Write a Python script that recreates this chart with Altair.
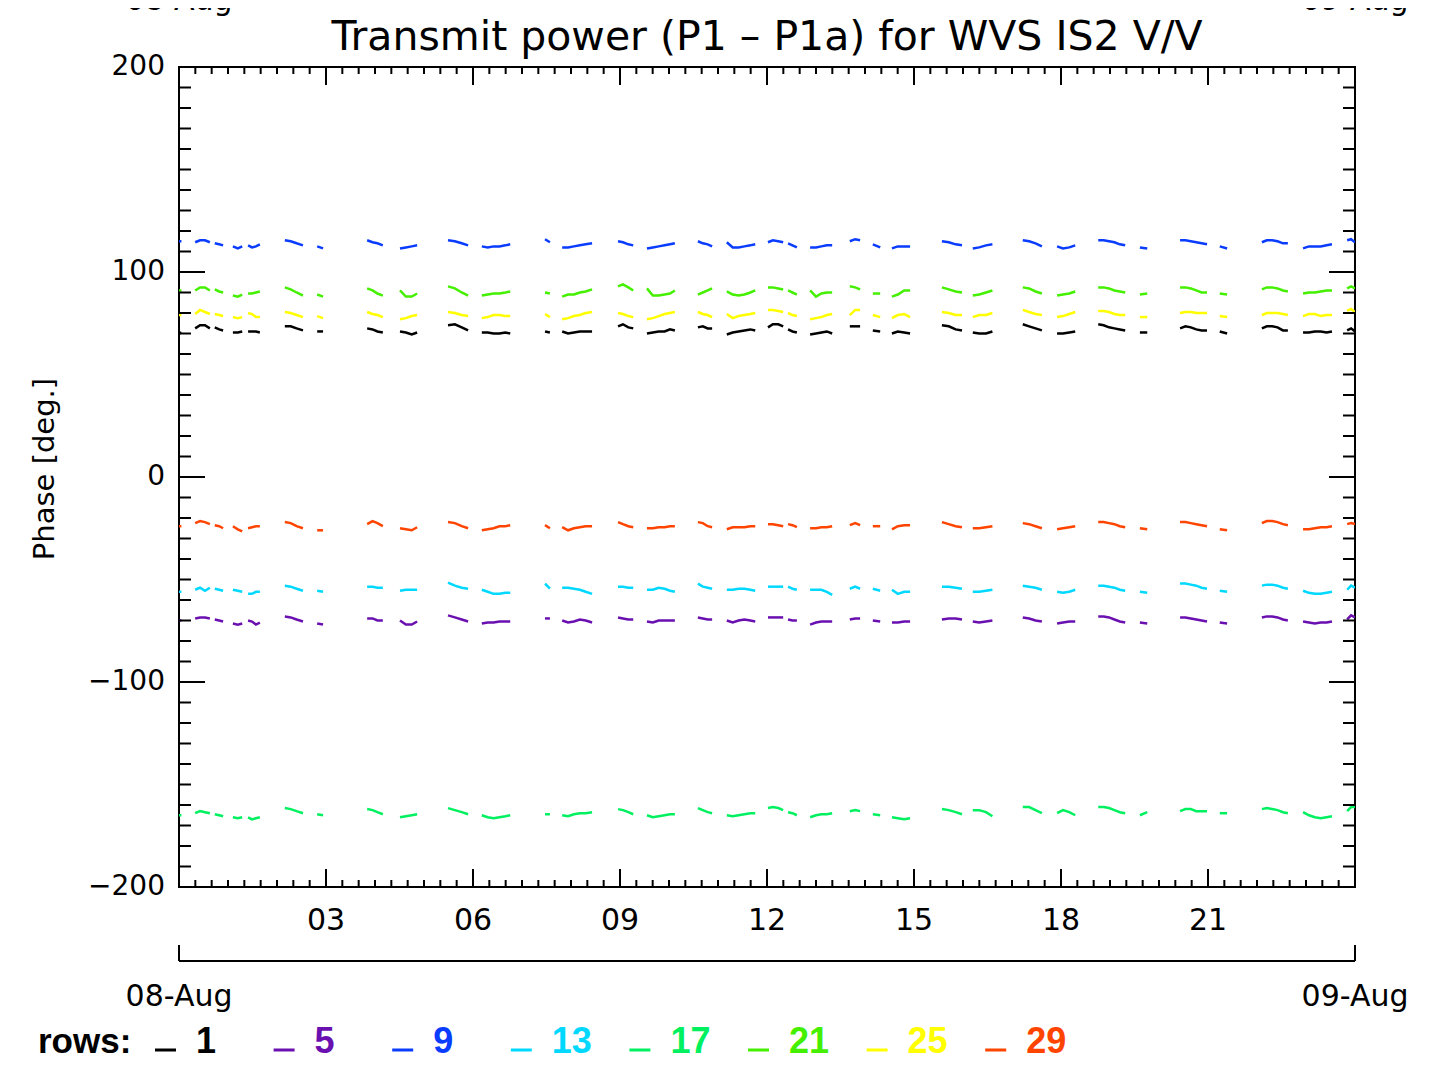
import altair as alt
import pandas as pd

# ---------------- data ----------------
rows = ["1", "5", "9", "13", "17", "21", "25", "29"]
row_colors = ["#000000", "#6a10b0", "#0a3cff", "#00d8ff", "#00f060", "#44f000", "#ffff00", "#ff4400"]

# time (hours of 08-Aug) of the samples, grouped into contiguous segments
seg_times = [
    [0.00, 0.05],
    [0.33, 0.43, 0.53, 0.63],
    [0.73, 0.82, 0.90],
    [1.10, 1.20, 1.29],
    [1.41, 1.49, 1.57, 1.65],
    [2.16, 2.28, 2.40, 2.53],
    [2.82, 2.94],
    [3.84, 3.95, 4.05, 4.16],
    [4.51, 4.63, 4.75, 4.86],
    [5.49, 5.63, 5.77, 5.90],
    [6.18, 6.30, 6.42, 6.54, 6.66, 6.76],
    [7.47, 7.57],
    [7.82, 7.94, 8.06, 8.18, 8.30, 8.43],
    [8.96, 9.06, 9.17, 9.27],
    [9.55, 9.67, 9.79, 9.91, 10.02, 10.12],
    [10.59, 10.69, 10.79, 10.88],
    [11.18, 11.30, 11.42, 11.54, 11.66, 11.76],
    [12.02, 12.12, 12.23, 12.33],
    [12.43, 12.52, 12.61],
    [12.88, 13.00, 13.11, 13.22, 13.33],
    [13.69, 13.80, 13.90],
    [14.16, 14.31],
    [14.55, 14.67, 14.80, 14.92],
    [15.57, 15.71, 15.85, 15.98],
    [16.20, 16.33, 16.47, 16.60],
    [17.22, 17.35, 17.48, 17.61],
    [17.92, 18.04, 18.17, 18.29],
    [18.76, 18.87, 18.98, 19.09, 19.20, 19.31],
    [19.61, 19.76],
    [20.43, 20.54, 20.65, 20.76, 20.87, 20.98],
    [21.24, 21.39],
    [22.10, 22.20, 22.31, 22.42, 22.53, 22.63],
    [22.94, 23.06, 23.18, 23.30, 23.42, 23.53],
    [23.84, 23.92, 24.00],
]

row_1 = [
    [70, 70.5], [72.5, 74, 74, 72.5], [73, 72, 71.5], [70.5, 70.5, 71], [71, 71, 71, 70.5],
    [73.5, 73.5, 72.5, 71.5], [71, 71], [72.5, 72, 71, 70.5], [71, 70.5, 69.5, 70.5],
    [74, 74.5, 73, 71.5], [70.5, 70.5, 70, 70, 70.5, 70], [71, 70.5], [71, 70, 70.5, 71, 71, 71],
    [73.5, 74.5, 73, 72.5], [70, 70.5, 71, 71, 72, 71.5], [73, 73.5, 72.5, 72.5],
    [69.5, 70.5, 71, 71.5, 72, 71.5], [73, 74.5, 74.5, 73.5], [72, 71, 70.5],
    [69.5, 70, 70.5, 71, 70], [73.5, 73.5, 73.5], [71.5, 71], [70, 71, 70.5, 70],
    [74, 73.5, 72, 71.5], [70.5, 70, 70, 71], [74.5, 73.5, 72.5, 71.5], [70, 70, 70.5, 71],
    [74.5, 74, 73, 72.5, 72, 71.5], [70.5, 70.5], [72.5, 73.5, 73, 72, 71.5, 71.5], [71, 70],
    [72.5, 73.5, 73.5, 73, 71.5, 71.5], [70.5, 70.5, 71, 71, 70.5, 71], [71.5, 72.5, 71],
]
row_5 = [
    [-70, -70], [-69, -68.5, -68.5, -69], [-69.5, -70, -70.5], [-71.5, -72, -71.5],
    [-70, -70.5, -72, -71], [-68, -68.5, -69.5, -70.5], [-71.5, -72], [-69, -69, -70, -70],
    [-70, -72, -72, -70.5], [-67.5, -68.5, -69.5, -70.5], [-71.5, -71, -71, -70.5, -70.5, -70.5],
    [-69, -69], [-70, -71, -70.5, -69.5, -70, -71], [-68.5, -69, -69.5, -69.5],
    [-70.5, -71, -70, -70, -70, -70], [-68.5, -69, -69.5, -69.5], [-70, -71, -70, -69.5, -70, -70.5],
    [-68.5, -68.5, -68.5, -68.5], [-69.5, -70, -70], [-72, -71, -70.5, -70.5, -70.5],
    [-69.5, -69, -69], [-70, -70.5], [-71, -71, -70.5, -70.5], [-69.5, -69, -69, -69.5],
    [-70.5, -71, -70.5, -70], [-68.5, -69, -70, -70.5], [-71.5, -71, -70.5, -70.5],
    [-68, -68, -68.5, -69.5, -70.5, -71], [-71, -71.5], [-68.5, -68.5, -69, -69.5, -70, -70.5],
    [-71, -71.5], [-68.5, -68, -68, -68.5, -69.5, -70], [-70.5, -71, -71.5, -71, -71, -70.5],
    [-69.5, -67.5, -68.5],
]
row_9 = [
    [115, 115], [114.5, 115.5, 115.5, 114.5], [114, 113.5, 113], [112.5, 111.5, 112.5],
    [113, 112, 112.5, 113.5], [115.5, 115, 114, 113], [112.5, 111.5], [115.5, 114.5, 114, 113],
    [111.5, 112, 112.5, 113], [115.5, 115, 114, 113], [112.5, 112, 112.5, 112.5, 113, 113.5],
    [116, 114.5], [112, 112, 112.5, 113, 113.5, 114], [115, 114.5, 113.5, 113],
    [111.5, 112, 112.5, 113, 113.5, 114], [115, 114, 113.5, 112.5],
    [114.5, 112, 112, 112.5, 113, 113.5], [114.5, 115.5, 115, 114.5], [114, 113, 112],
    [112, 112, 112.5, 113, 113], [115, 116, 115.5], [113.5, 112], [111.5, 112.5, 112.5, 112.5],
    [115, 114.5, 113.5, 113], [111.5, 112, 113, 113.5], [115.5, 115, 114, 112.5],
    [112.5, 111.5, 112, 113], [115.5, 115.5, 115, 114.5, 113.5, 113], [112, 111.5],
    [115.5, 115.5, 115, 114.5, 114, 113.5], [112.5, 111.5], [114.5, 115.5, 115.5, 115, 114, 114],
    [111.5, 112.5, 112.5, 112.5, 113, 113.5], [115.5, 116, 114.5],
]
row_13 = [
    [-56, -56], [-55, -54, -55.5, -54], [-54.5, -55, -55.5], [-55, -55.5, -56],
    [-57, -57, -56, -56], [-53, -53.5, -54.5, -55.5], [-55.5, -56], [-53.5, -53.5, -54, -54],
    [-55.5, -55, -55, -55], [-51.5, -53, -54, -54.5], [-55, -56, -57, -57, -56.5, -56.5],
    [-52, -54.5], [-54, -54, -54.5, -55, -56, -57], [-53.5, -53.5, -54, -54],
    [-55, -55, -54, -54.5, -55.5, -56], [-52, -53.5, -54, -54.5],
    [-55, -55, -54.5, -54.5, -55, -55.5], [-53.5, -53.5, -53.5, -53.5], [-53.5, -54.5, -55],
    [-55, -55, -55, -56, -57.5], [-54.5, -53.5, -54.5], [-54.5, -55.5], [-55, -57, -56, -56],
    [-53.5, -53.5, -54, -54.5], [-56, -56, -55.5, -55], [-53, -53.5, -54, -55],
    [-56, -56.5, -56, -55], [-53, -53, -53.5, -54, -55, -55.5], [-56, -56.5],
    [-52, -52, -52.5, -53, -54, -54.5], [-55.5, -56], [-53, -52.5, -52.5, -53, -54, -54.5],
    [-55.5, -56.5, -57, -57, -56.5, -56], [-55, -53, -54],
]
row_17 = [
    [-165, -165], [-164, -163, -163.5, -164], [-164.5, -165, -165.5], [-166, -166.5, -166],
    [-166, -167, -166.5, -166], [-161.5, -162, -163, -164], [-164.5, -165],
    [-162, -162.5, -163.5, -164.5], [-166, -165.5, -165, -164.5], [-161.5, -162.5, -163.5, -164.5],
    [-165, -166, -166.5, -166, -165.5, -165], [-164.5, -164.5],
    [-165, -165.5, -164.5, -164, -164, -163.5], [-162, -162.5, -163.5, -164.5],
    [-165, -166, -165.5, -165, -164.5, -164.5], [-161.5, -162.5, -163.5, -164],
    [-165, -165.5, -165, -164.5, -164, -164], [-161.5, -161, -161.5, -162.5], [-163.5, -164, -165],
    [-166, -165, -164.5, -164.5, -164], [-163, -162.5, -163], [-164.5, -165],
    [-166, -166.5, -167, -166.5], [-162, -162.5, -163.5, -164.5], [-162.5, -162.5, -163.5, -165.5],
    [-161, -161, -162.5, -164], [-164, -162.5, -163.5, -165], [-161, -161, -161.5, -162.5, -163.5, -164],
    [-165, -163.5], [-163, -162, -162, -163, -163, -163], [-164, -164],
    [-162, -161.5, -162, -162.5, -163.5, -164], [-163.5, -165, -166, -166.5, -166, -165.5],
    [-163, -161, -161],
]
row_21 = [
    [91, 91], [91, 92.5, 92.5, 91], [91.5, 90.5, 90], [88.5, 88, 89], [89.5, 89.5, 90, 90.5],
    [92.5, 91.5, 90, 88.5], [89, 88], [92, 91, 89.5, 88.5], [91, 88, 88, 89.5], [93, 92, 90, 88.5],
    [88.5, 89, 89.5, 89.5, 90, 90.5], [90, 89.5], [88, 89, 89, 90, 90.5, 91.5], [93, 94, 92.5, 91],
    [92, 88.5, 88.5, 89, 89.5, 91], [89, 90, 91, 92], [90.5, 89, 88.5, 89, 90, 91],
    [92.5, 92.5, 92, 91.5], [91, 90, 89], [91, 88, 89.5, 90, 90], [93, 92.5, 91.5], [89.5, 89.5],
    [88, 89, 91, 91], [92.5, 91.5, 90.5, 90], [88.5, 89, 90, 91], [92.5, 92, 90.5, 89.5],
    [88.5, 89, 89.5, 90.5], [92.5, 92.5, 92, 91, 90.5, 90], [89, 89.5], [92.5, 92.5, 92, 91, 90, 90],
    [89.5, 89], [91.5, 92.5, 92.5, 92, 91, 90.5], [89.5, 90, 90, 90.5, 91, 91], [92, 93, 92],
]
row_25 = [
    [79, 79], [79.5, 81.5, 80.5, 79.5], [79.5, 79, 78.5], [78, 77.5, 78], [80, 79.5, 78, 78],
    [80.5, 80, 79, 78], [78.5, 77.5], [80.5, 79.5, 79, 78], [77, 77.5, 78.5, 79], [80.5, 80, 79, 78.5],
    [77.5, 78, 79, 79, 78.5, 78.5], [79.5, 78], [77, 77.5, 78.5, 79, 80, 80.5], [80, 79.5, 78.5, 78],
    [77, 77.5, 78.5, 79.5, 80, 80.5], [80.5, 79.5, 79, 78], [79.5, 77.5, 78.5, 79, 79.5, 80],
    [81.5, 81.5, 81, 80.5], [80, 79, 78.5], [77, 77.5, 78, 79, 79.5], [79, 81.5, 81.5], [79, 78],
    [77.5, 79, 79.5, 78], [80.5, 80, 79, 79], [78, 79, 79, 80], [81.5, 80.5, 79.5, 79],
    [78, 78.5, 79.5, 80.5], [81, 81, 80.5, 79.5, 79, 79], [78, 78], [80, 80.5, 80.5, 80, 80, 80],
    [78.5, 78], [79, 80, 80, 80, 79.5, 79], [78.5, 79.5, 79.5, 78.5, 79, 79], [81, 82, 80.5],
]
row_29 = [
    [-24, -24], [-22.5, -21.5, -22, -23], [-23.5, -24, -25], [-24, -25.5, -26.5], [-25, -24.5, -24, -24],
    [-22, -22.5, -24, -25], [-26, -26], [-23, -21.5, -22.5, -24], [-25, -25.5, -26, -24.5],
    [-22, -22.5, -24, -25], [-26, -25.5, -25, -24, -24, -23.5], [-23.5, -25],
    [-24.5, -26, -25, -24.5, -24, -24], [-22, -23, -24, -24.5], [-25, -25, -24.5, -24.5, -24, -24],
    [-22, -22.5, -24, -24.5], [-25.5, -24.5, -24.5, -24.5, -24, -24], [-23, -23, -23.5, -24],
    [-23, -23.5, -24.5], [-25, -25, -24.5, -24.5, -24], [-23.5, -22.5, -23.5], [-24, -24],
    [-25.5, -24, -23.5, -23.5], [-22, -23, -24, -24.5], [-25, -25, -24.5, -24], [-22.5, -23, -24, -25],
    [-25.5, -25, -24.5, -24], [-22, -22, -22.5, -23, -24, -24.5], [-25, -25.5],
    [-22, -22, -22.5, -23, -23.5, -24], [-25.5, -26], [-22.5, -21.5, -21.5, -22, -23, -23.5],
    [-25.5, -25.5, -25, -24.5, -24.5, -24], [-23, -22.5, -23],
]

series_values = {"1": row_1, "5": row_5, "9": row_9, "13": row_13,
                 "17": row_17, "21": row_21, "25": row_25, "29": row_29}

y_tick_values = [-200, -100, 0, 100, 200]
y_tick_labels = ["\u2212200", "\u2212100", "0", "100", "200"]
x_tick_values = [3, 6, 9, 12, 15, 18, 21]
x_tick_labels = ["03", "06", "09", "12", "15", "18", "21"]
date_hours = [0, 24]
date_labels = ["08-Aug", "09-Aug"]

title_text = "Transmit power (P1 \u2013 P1a) for WVS IS2 V/V"
y_title = "Phase [deg.]"

# ---------------- build tables ----------------
records = []
for name in rows:
    segs = series_values[name]
    if len(segs) != len(seg_times):
        raise ValueError(f"row {name}: {len(segs)} segments")
    for k, (ts, vs) in enumerate(zip(seg_times, segs)):
        if len(ts) != len(vs):
            raise ValueError(f"row {name} seg {k}: {len(ts)} vs {len(vs)}")
        for t, v in zip(ts, vs):
            records.append({"hour": t, "phase": v, "row": name, "seg": k})
df = pd.DataFrame(records)

W, H = 1176, 820
FONT = "DejaVu Sans"
xscale = alt.Scale(domain=[0, 24], nice=False, zero=False)
yscale = alt.Scale(domain=[-200, 200], nice=False, zero=False)

lines = alt.Chart(df).mark_line(strokeWidth=2.5, clip=True).encode(
    x=alt.X("hour:Q", scale=xscale, axis=None),
    y=alt.Y("phase:Q", scale=yscale, axis=None),
    color=alt.Color("row:N", scale=alt.Scale(domain=rows, range=row_colors), legend=None),
    detail="seg:N",
)

# ---- inward ticks on all four sides ----
y_minor = pd.DataFrame({"v": list(range(-200, 201, 10))})
y_major = pd.DataFrame({"v": y_tick_values})
x_minor = pd.DataFrame({"h": [i / 3 for i in range(73)]})
x_major = pd.DataFrame({"h": list(range(0, 25, 3))})


def ytick(d, a, b):
    return alt.Chart(d).mark_rule(color="black", strokeWidth=2).encode(
        y=alt.Y("v:Q", scale=yscale, axis=None), x=alt.value(a), x2=alt.value(b))


def xtick(d, a, b):
    return alt.Chart(d).mark_rule(color="black", strokeWidth=2).encode(
        x=alt.X("h:Q", scale=xscale, axis=None), y=alt.value(a), y2=alt.value(b))


ticks = [
    ytick(y_minor, 0, 12), ytick(y_minor, W, W - 12),
    ytick(y_major, 0, 26), ytick(y_major, W, W - 26),
    xtick(x_minor, 0, 7), xtick(x_minor, H, H - 7),
    xtick(x_major, 0, 18), xtick(x_major, H, H - 18),
]

# ---- tick labels ----
ylab = alt.Chart(pd.DataFrame({"v": y_tick_values, "lab": y_tick_labels})).mark_text(
    align="right", baseline="middle", font=FONT, fontSize=28, color="black"
).encode(y=alt.Y("v:Q", scale=yscale, axis=None), x=alt.value(-14), text="lab:N")

xlab = alt.Chart(pd.DataFrame({"h": x_tick_values, "lab": x_tick_labels})).mark_text(
    align="center", baseline="middle", font=FONT, fontSize=30, color="black"
).encode(x=alt.X("h:Q", scale=xscale, axis=None), y=alt.value(H + 34), text="lab:N")

ytitle = alt.Chart(pd.DataFrame({"t": [y_title]})).mark_text(
    align="center", baseline="middle", angle=270, font=FONT, fontSize=29, color="black"
).encode(x=alt.value(-134), y=alt.value(402), text="t:N")

title = alt.Chart(pd.DataFrame({"t": [title_text]})).mark_text(
    align="center", baseline="alphabetic", font=FONT, fontSize=41, color="black"
).encode(x=alt.value(W / 2), y=alt.value(-17), text="t:N")

# ---- date axis ----
dates = pd.DataFrame({"h": date_hours, "lab": date_labels})
date_top = alt.Chart(dates).mark_text(
    align="center", baseline="alphabetic", font=FONT, fontSize=30, color="black"
).encode(x=alt.X("h:Q", scale=xscale, axis=None), y=alt.value(-57), text="lab:N")
date_bot = alt.Chart(dates).mark_text(
    align="center", baseline="alphabetic", font=FONT, fontSize=30, color="black"
).encode(x=alt.X("h:Q", scale=xscale, axis=None), y=alt.value(939), text="lab:N")
date_line = alt.Chart(pd.DataFrame({"h0": [date_hours[0]], "h1": [date_hours[1]]})).mark_rule(
    color="black", strokeWidth=2
).encode(x=alt.X("h0:Q", scale=xscale, axis=None), x2="h1:Q", y=alt.value(894))
date_ends = alt.Chart(dates).mark_rule(color="black", strokeWidth=2).encode(
    x=alt.X("h:Q", scale=xscale, axis=None), y=alt.value(878), y2=alt.value(894))

# ---- "rows:" legend ----
leg = pd.DataFrame({"i": list(range(len(rows))), "lab": rows, "col": row_colors})
leg_base = alt.Chart(leg).transform_calculate(
    lx="datum.i * 118.6 - 24", lx2="datum.i * 118.6 - 3", nx="datum.i * 118.6 + 17")
leg_bars = leg_base.mark_rule(strokeWidth=3).encode(
    x=alt.X("lx:Q", scale=None), x2="lx2:Q", y=alt.value(983),
    color=alt.Color("col:N", scale=None))
leg_nums = leg_base.mark_text(
    align="left", baseline="alphabetic", font="Liberation Sans", fontWeight="bold", fontSize=36
).encode(x=alt.X("nx:Q", scale=None), y=alt.value(986), text="lab:N",
         color=alt.Color("col:N", scale=None))
leg_title = alt.Chart(pd.DataFrame({"t": ["rows:"]})).mark_text(
    align="left", baseline="alphabetic", font="Liberation Sans", fontWeight="bold",
    fontSize=35, color="black"
).encode(x=alt.value(-141), y=alt.value(986), text="t:N")

chart = alt.layer(
    lines, *ticks, ylab, xlab, ytitle, title, date_top, date_bot, date_line, date_ends,
    leg_bars, leg_nums, leg_title
).properties(
    width=W, height=H,
    autosize=alt.AutoSizeParams(type="none"),
    padding={"left": 171, "top": 59, "right": 55, "bottom": 185},
).configure_view(stroke="black", strokeWidth=2)

chart.save("out.html", embed_options={"renderer": "svg", "actions": False})
